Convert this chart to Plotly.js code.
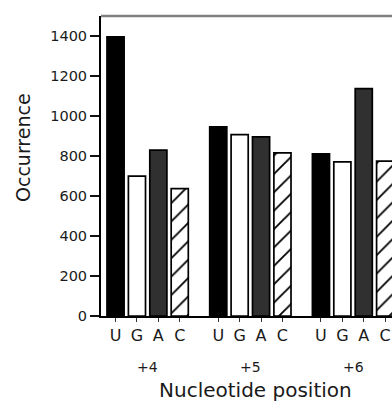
<!DOCTYPE html>
<html>
<head>
<meta charset="utf-8">
<script src="https://cdn.plot.ly/plotly-3.0.1.min.js"></script>
<style>
  html, body { margin: 0; padding: 0; background: #fff; }
  #chart { width: 392px; height: 403px; }
</style>
</head>
<body>
<div id="chart"></div>
<script>
// Data
const positions = ['+4', '+5', '+6'];
const nucleotides = ['U', 'G', 'A', 'C'];
const valuesU = [1396, 946, 811];
const valuesG = [699, 907, 771];
const valuesA = [829, 896, 1137];
const valuesC = [637, 816, 774];
const yTicks = [0, 200, 400, 600, 800, 1000, 1200, 1400];

const series = [valuesU, valuesG, valuesA, valuesC];
const groupStep = 4.8;
const xOf = (g, j) => g * groupStep + j;

const styles = [
  { color: '#000000' },
  { color: '#ffffff' },
  { color: '#303030' },
  { color: '#ffffff', pattern: { shape: '/', fgcolor: '#000000', bgcolor: '#ffffff', size: 13, solidity: 0.14 } }
];

const traces = series.map((vals, j) => ({
  type: 'bar',
  name: nucleotides[j],
  x: positions.map((p, g) => xOf(g, j)),
  y: vals,
  width: 0.8,
  marker: Object.assign({ line: { color: '#000000', width: 1.7 } }, styles[j]),
  hoverinfo: 'skip'
}));

const tickvals = [], ticktext = [];
positions.forEach((p, g) => nucleotides.forEach((n, j) => { tickvals.push(xOf(g, j)); ticktext.push(n); }));

const font = 'DejaVu Sans, Verdana, sans-serif';
const txt = '#1a1a1a';
const annotations = positions.map((p, g) => ({
  text: p, xref: 'x', yref: 'paper', x: xOf(g, 1.5), y: -0.17,
  showarrow: false, xanchor: 'center', yanchor: 'middle',
  font: { family: font, size: 14, color: txt }
}));
annotations.push({
  text: 'Nucleotide position', xref: 'paper', yref: 'paper', x: 0.531, y: -0.247,
  showarrow: false, xanchor: 'center', yanchor: 'middle',
  font: { family: font, size: 20, color: txt }
});
annotations.push({
  text: 'Occurrence', xref: 'paper', yref: 'paper', x: -0.268, y: 0.56, textangle: -90,
  showarrow: false, xanchor: 'center', yanchor: 'middle',
  font: { family: font, size: 19, color: txt }
});

const layout = {
  width: 392, height: 403,
  margin: { l: 101, r: 0, t: 16, b: 87, pad: 0 },
  paper_bgcolor: '#fff', plot_bgcolor: '#fff',
  showlegend: false,
  barmode: 'overlay',
  font: { family: font, color: txt },
  xaxis: {
    range: [-0.68, 12.92],
    tickvals: tickvals, ticktext: ticktext,
    ticks: 'outside', ticklen: 4, tickwidth: 1, tickcolor: '#333',
    showline: true, linecolor: '#000', linewidth: 2,
    showgrid: false, zeroline: false,
    tickfont: { family: font, size: 16, color: txt }
  },
  yaxis: {
    range: [0, 1500],
    tickvals: yTicks,
    ticks: 'outside', ticklen: 9, tickwidth: 2, tickcolor: '#111',
    showline: true, linecolor: '#000', linewidth: 2,
    showgrid: false, zeroline: false,
    tickfont: { family: font, size: 14.5, color: txt }
  },
  shapes: [{
    type: 'line', xref: 'paper', yref: 'paper', x0: 0, x1: 1, y0: 1, y1: 1,
    line: { color: '#808080', width: 2.5 }
  }],
  annotations: annotations
};

Plotly.newPlot('chart', traces, layout, { displayModeBar: false, staticPlot: true });
</script>
</body>
</html>
